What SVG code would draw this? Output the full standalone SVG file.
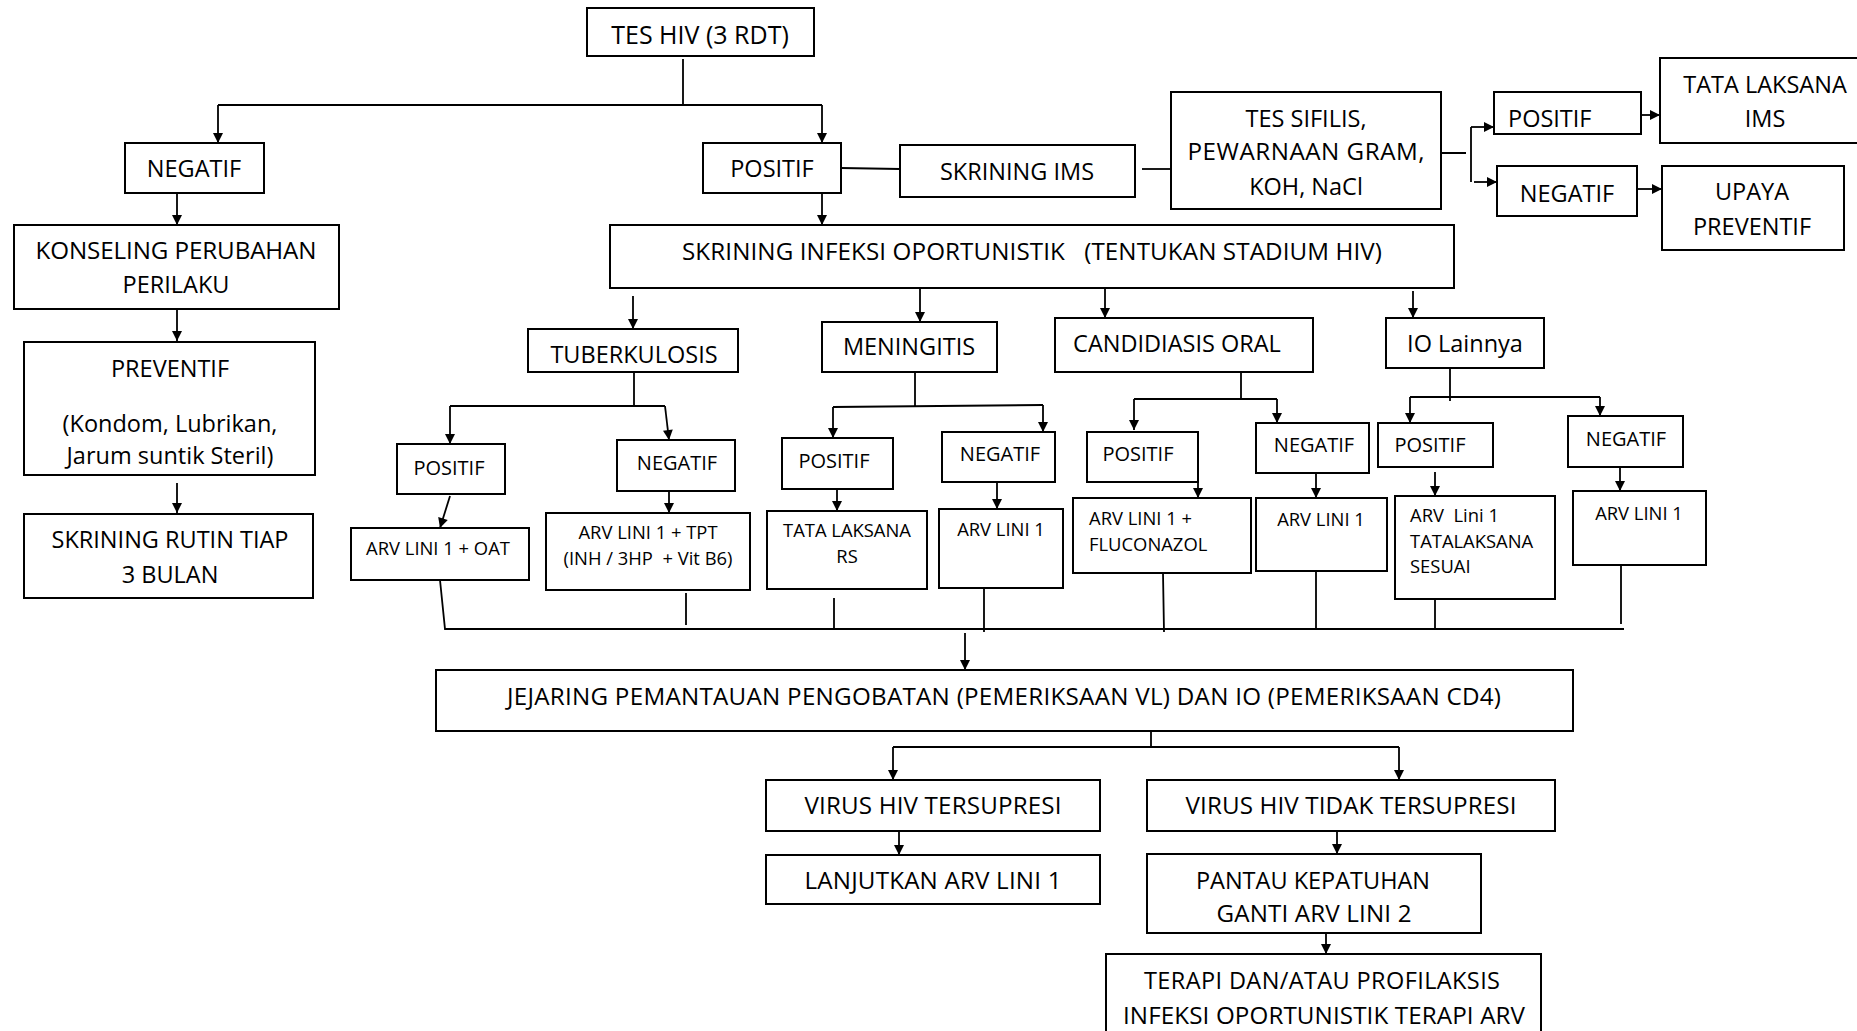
<svg xmlns="http://www.w3.org/2000/svg" width="1857" height="1031" viewBox="0 0 1857 1031">
<defs>
<marker id="arr" viewBox="0 0 10 10" markerWidth="12" markerHeight="10" refX="10" refY="5" orient="auto" markerUnits="userSpaceOnUse">
<path d="M0,0 L10,5 L0,10 z" fill="#000"/>
</marker>
</defs>
<style>
.box{fill:#fff;stroke:#000;stroke-width:2}
text{font-family:"Open Sans","Liberation Sans",sans-serif;fill:#000}
.L{font-size:23.5px;text-anchor:middle}
.W{font-size:24.2px}
.M{font-size:20px;text-anchor:middle}
.S{font-size:18.4px;text-anchor:middle}
.SL{font-size:18.4px;text-anchor:start}
.c{stroke:#000;stroke-width:1.8;fill:none}
.a{marker-end:url(#arr)}
</style>
<rect width="1857" height="1031" fill="#fff"/>

<g id="connectors">
<path class="c" d="M683,59 V105 M218,105 H822"/>
<path class="c a" d="M218,105 V143"/>
<path class="c a" d="M822,105 V143"/>
<path class="c a" d="M177,193 V225"/>
<path class="c a" d="M177,309 V341"/>
<path class="c a" d="M177,483 V513"/>
<path class="c a" d="M822,193 V225"/>
<path class="c" d="M841,168 L900,169"/>
<path class="c" d="M1142,169 H1171"/>
<path class="c" d="M1436,153 H1466 M1471,127 V182"/>
<path class="c a" d="M1471,127 H1494"/>
<path class="c a" d="M1474,182 H1497"/>
<path class="c a" d="M1637,115 H1660"/>
<path class="c a" d="M1637,189 H1662"/>
<path class="c a" d="M633,296 V329"/>
<path class="c a" d="M920,288 V322"/>
<path class="c a" d="M1105,288 V318"/>
<path class="c a" d="M1413,291 V318"/>
<path class="c" d="M634,372 V406 M450,406 H665"/>
<path class="c a" d="M450,406 V444"/>
<path class="c a" d="M665,406 L669,440"/>
<path class="c a" d="M450,496 L440,528"/>
<path class="c a" d="M669,491 V513"/>
<path class="c" d="M915,372 V406 M833,407 L1043,405"/>
<path class="c a" d="M833,407 V438"/>
<path class="c a" d="M1043,405 V432"/>
<path class="c a" d="M837,489 V511"/>
<path class="c a" d="M997,482 V509"/>
<path class="c" d="M1241,372 V399 M1134,399 H1277"/>
<path class="c a" d="M1134,399 V430"/>
<path class="c a" d="M1277,399 V423"/>
<path class="c a" d="M1198,482 V498"/>
<path class="c a" d="M1316,473 V498"/>
<path class="c" d="M1450,368 V401 M1410,397 H1600"/>
<path class="c a" d="M1410,397 V423"/>
<path class="c a" d="M1600,397 V416"/>
<path class="c a" d="M1435,472 V496"/>
<path class="c a" d="M1620,467 V491"/>
<path class="c" d="M440,580 L445,629 H1624"/>
<path class="c" d="M686,593 V625 M834,598 V628 M984,579 V632 M1163,573 L1164,632 M1316,571 V629 M1435,599 V630 M1621,565 V624"/>
<path class="c a" d="M965,633 V670"/>
<path class="c" d="M1151,731 V747 M893,747 H1399"/>
<path class="c a" d="M893,747 V780"/>
<path class="c a" d="M1399,747 V780"/>
<path class="c a" d="M899,831 V855"/>
<path class="c a" d="M1337,831 V854"/>
<path class="c a" d="M1326,933 V954"/>
</g>

<g id="n-tes-hiv"><rect class="box" x="587" y="8" width="227" height="48"/><text class="L" x="700" y="44" style="font-size:25px">TES HIV (3 RDT)</text></g>
<g id="n-negatif"><rect class="box" x="125" y="143" width="139" height="50"/><text class="L" x="194" y="177">NEGATIF</text></g>
<g id="n-konseling"><rect class="box" x="14" y="225" width="325" height="84"/><text class="L W" x="176" y="259" textLength="281">KONSELING PERUBAHAN</text><text class="L" x="176" y="293">PERILAKU</text></g>
<g id="n-preventif"><rect class="box" x="24" y="342" width="291" height="133"/><text class="L" x="170" y="377">PREVENTIF</text><text class="L" x="170" y="432">(Kondom, Lubrikan,</text><text class="L" x="170" y="464">Jarum suntik Steril)</text></g>
<g id="n-skrining-rutin"><rect class="box" x="24" y="514" width="289" height="84"/><text class="L" x="170" y="548">SKRINING RUTIN TIAP</text><text class="L" x="170" y="583">3 BULAN</text></g>
<g id="n-positif"><rect class="box" x="703" y="143" width="138" height="50"/><text class="L" x="772" y="177">POSITIF</text></g>
<g id="n-skrining-ims"><rect class="box" x="900" y="145" width="235" height="52"/><text class="L" x="1017" y="180">SKRINING IMS</text></g>
<g id="n-tes-sifilis"><rect class="box" x="1171" y="92" width="270" height="117"/><text class="L" x="1306" y="127">TES SIFILIS,</text><text class="L W" x="1306" y="160" textLength="237">PEWARNAAN GRAM,</text><text class="L" x="1306" y="195">KOH, NaCl</text></g>
<g id="n-ims-positif"><rect class="box" x="1494" y="92" width="147" height="42"/><text class="L" x="1508" y="127" style="text-anchor:start">POSITIF</text></g>
<g id="n-tata-ims"><rect class="box" x="1660" y="58" width="202" height="85"/><text class="L" x="1765" y="93">TATA LAKSANA</text><text class="L" x="1765" y="127">IMS</text></g>
<g id="n-ims-negatif"><rect class="box" x="1497" y="166" width="140" height="50"/><text class="L" x="1567" y="202">NEGATIF</text></g>
<g id="n-upaya"><rect class="box" x="1662" y="166" width="182" height="84"/><text class="L" x="1752" y="200">UPAYA</text><text class="L" x="1752" y="235">PREVENTIF</text></g>
<g id="n-skrining-io"><rect class="box" x="610" y="225" width="844" height="63"/><text class="L W" x="1032" y="260" textLength="700" xml:space="preserve">SKRINING INFEKSI OPORTUNISTIK   (TENTUKAN STADIUM HIV)</text></g>

<g id="n-tb"><rect class="box" x="528" y="329" width="210" height="43"/><text class="L" x="634" y="363">TUBERKULOSIS</text></g>
<g id="n-tb-pos"><rect class="box" x="397" y="444" width="108" height="50"/><text class="M" x="449" y="475">POSITIF</text></g>
<g id="n-tb-neg"><rect class="box" x="617" y="440" width="118" height="51"/><text class="M" x="677" y="470">NEGATIF</text></g>
<g id="n-arv-oat"><rect class="box" x="351" y="528" width="178" height="52"/><text class="S" x="438" y="555">ARV LINI 1 + OAT</text></g>
<g id="n-arv-tpt"><rect class="box" x="546" y="513" width="204" height="77"/><text class="S" x="648" y="539">ARV LINI 1 + TPT</text><text class="S" x="648" y="565" xml:space="preserve">(INH / 3HP  + Vit B6)</text></g>

<g id="n-men"><rect class="box" x="822" y="322" width="175" height="50"/><text class="L" x="909" y="355">MENINGITIS</text></g>
<g id="n-men-pos"><rect class="box" x="782" y="438" width="111" height="51"/><text class="M" x="834" y="468">POSITIF</text></g>
<g id="n-men-neg"><rect class="box" x="942" y="432" width="113" height="50"/><text class="M" x="1000" y="461">NEGATIF</text></g>
<g id="n-tata-rs"><rect class="box" x="767" y="511" width="160" height="78"/><text class="S" x="847" y="537">TATA LAKSANA</text><text class="S" x="847" y="563">RS</text></g>
<g id="n-arv-men"><rect class="box" x="939" y="509" width="124" height="79"/><text class="S" x="1001" y="536">ARV LINI 1</text></g>

<g id="n-cand"><rect class="box" x="1055" y="318" width="258" height="54"/><text class="L" x="1177" y="352">CANDIDIASIS ORAL</text></g>
<g id="n-cand-pos"><rect class="box" x="1087" y="432" width="111" height="50"/><text class="M" x="1138" y="461">POSITIF</text></g>
<g id="n-cand-neg"><rect class="box" x="1256" y="423" width="113" height="50"/><text class="M" x="1314" y="452">NEGATIF</text></g>
<g id="n-arv-fluc"><rect class="box" x="1073" y="498" width="178" height="75"/><text class="SL" x="1089" y="525">ARV LINI 1 +</text><text class="SL" x="1089" y="551">FLUCONAZOL</text></g>
<g id="n-arv-cand"><rect class="box" x="1256" y="498" width="131" height="73"/><text class="S" x="1321" y="526">ARV LINI 1</text></g>

<g id="n-io"><rect class="box" x="1386" y="318" width="158" height="50"/><text class="L" x="1465" y="352">IO Lainnya</text></g>
<g id="n-io-pos"><rect class="box" x="1378" y="423" width="115" height="44"/><text class="M" x="1430" y="452">POSITIF</text></g>
<g id="n-io-neg"><rect class="box" x="1568" y="416" width="115" height="51"/><text class="M" x="1626" y="446">NEGATIF</text></g>
<g id="n-arv-io-pos"><rect class="box" x="1395" y="496" width="160" height="103"/><text class="SL" x="1410" y="522" xml:space="preserve">ARV  Lini 1</text><text class="SL" x="1410" y="548">TATALAKSANA</text><text class="SL" x="1410" y="573">SESUAI</text></g>
<g id="n-arv-io-neg"><rect class="box" x="1573" y="491" width="133" height="74"/><text class="S" x="1639" y="520">ARV LINI 1</text></g>

<g id="n-jejaring"><rect class="box" x="436" y="670" width="1137" height="61"/><text class="L W" x="1004" y="705" textLength="994">JEJARING PEMANTAUAN PENGOBATAN (PEMERIKSAAN VL) DAN IO (PEMERIKSAAN CD4)</text></g>
<g id="n-tersupresi"><rect class="box" x="766" y="780" width="334" height="51"/><text class="L W" x="933" y="814" textLength="257">VIRUS HIV TERSUPRESI</text></g>
<g id="n-tidak-tersupresi"><rect class="box" x="1147" y="780" width="408" height="51"/><text class="L W" x="1351" y="814" textLength="331">VIRUS HIV TIDAK TERSUPRESI</text></g>
<g id="n-lanjutkan"><rect class="box" x="766" y="855" width="334" height="49"/><text class="L W" x="933" y="889" textLength="257">LANJUTKAN ARV LINI 1</text></g>
<g id="n-pantau"><rect class="box" x="1147" y="854" width="334" height="79"/><text class="L" x="1313" y="889">PANTAU KEPATUHAN</text><text class="L W" x="1314" y="922" textLength="195">GANTI ARV LINI 2</text></g>
<g id="n-terapi"><rect class="box" x="1106" y="954" width="435" height="90"/><text class="L" x="1322" y="989" textLength="356">TERAPI DAN/ATAU PROFILAKSIS</text><text class="L W" x="1324" y="1024" textLength="402">INFEKSI OPORTUNISTIK TERAPI ARV</text></g>
</svg>
